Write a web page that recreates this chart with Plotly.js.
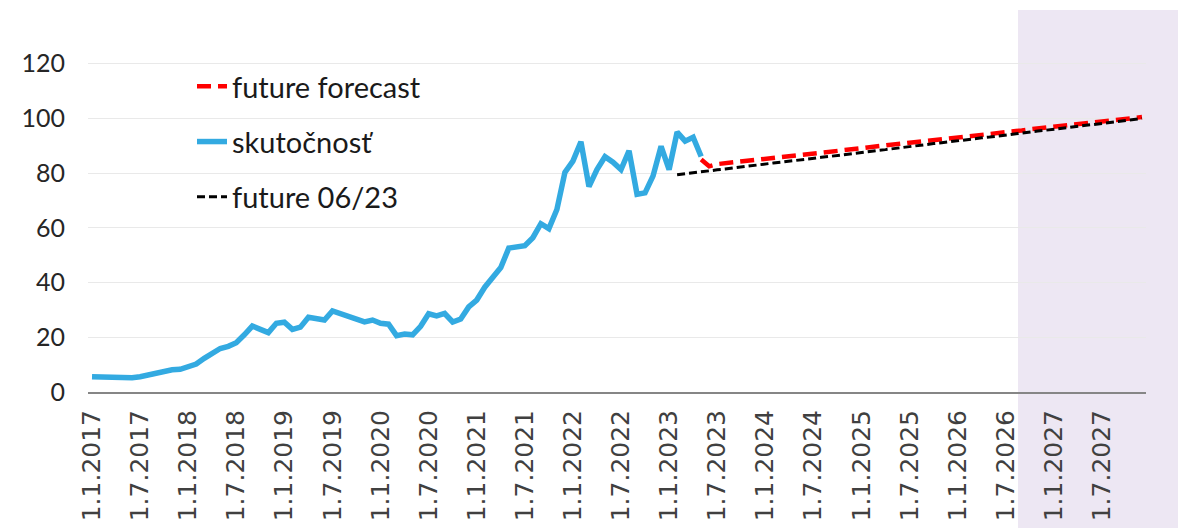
<!DOCTYPE html>
<html>
<head>
<meta charset="utf-8">
<script src="https://cdn.plot.ly/plotly-3.0.1.min.js"></script>
<style>
html,body{margin:0;padding:0;background:#fff;}
#chart{width:1187px;height:528px;}
</style>
</head>
<body>
<div id="chart"></div>
<script>
// monthly categories 1.1.2017 .. 1.12.2027
const startYear = 2017, endYear = 2027;
const months = [];
for (let y = startYear; y <= endYear; y++) {
  for (let m = 1; m <= 12; m++) months.push("1." + m + "." + y);
}
const tickLabels = months.filter(s => s.startsWith("1.1.") || s.startsWith("1.7."));

// skutočnosť: Jan 2017 .. May 2023
const actual = [5.6, 5.5, 5.3, 5.1, 4.9, 5.2, 5.6, 6.2, 7.3, 7.8, 8.1, 8.3,
  9.0, 10.2, 12.3, 14.2, 15.9, 16.7, 18.0, 20.9, 24.1, 22.9, 21.7, 25.1,
  25.5, 22.9, 23.7, 27.3, 27.0, 26.3, 29.6, 28.5, 27.3, 26.2, 25.6, 26.3,
  25.1, 24.8, 20.6, 21.2, 20.9, 24.0, 28.6, 27.8, 28.7, 25.6, 26.7, 31.1,
  33.6, 38.3, 41.8, 45.5, 52.6, 53.3, 53.5, 56.4, 61.5, 59.7, 66.7, 80.3,
  84.4, 91.5, 75.1, 81.3, 86.0, 84.0, 81.3, 88.2, 72.3, 72.8, 79.0, 89.8,
  81.3, 95.0, 91.7, 93.1, 86.1];
const actualStart = 0;

// future forecast: May 2023 .. Dec 2027
const forecast = [85.0, 82.5, 83.3, 83.6, 83.9, 84.3, 84.6, 84.9, 85.2, 85.6,
  85.9, 86.2, 86.5, 86.9, 87.2, 87.5, 87.8, 88.2, 88.5, 88.8,
  89.1, 89.5, 89.8, 90.1, 90.4, 90.8, 91.1, 91.4, 91.7, 92.1,
  92.4, 92.7, 93.0, 93.4, 93.7, 94.0, 94.3, 94.7, 95.0, 95.3,
  95.6, 96.0, 96.3, 96.6, 96.9, 97.3, 97.6, 97.9, 98.2, 98.6,
  98.9, 99.2, 99.5, 99.9, 100.2, 100.5];
const forecastStart = 76;

// future 06/23: Feb 2023 .. Dec 2027
const future0623 = [79.4, 79.8, 80.1, 80.5, 80.8, 81.2, 81.5, 81.9, 82.2, 82.6,
  83.0, 83.3, 83.7, 84.0, 84.4, 84.7, 85.1, 85.4, 85.8, 86.1,
  86.5, 86.9, 87.2, 87.6, 87.9, 88.3, 88.6, 89.0, 89.3, 89.7,
  90.0, 90.4, 90.8, 91.1, 91.5, 91.8, 92.2, 92.5, 92.9, 93.2,
  93.6, 93.9, 94.3, 94.7, 95.0, 95.4, 95.7, 96.1, 96.4, 96.8,
  97.1, 97.5, 97.8, 98.2, 98.6, 98.9, 99.3, 99.6, 100.0];
const futureStart = 73;

const yTicks = [0, 20, 40, 60, 80, 100, 120];

const traces = [
  {
    name: "future forecast", legendgroup: "a",
    x: months.slice(forecastStart, forecastStart + forecast.length), y: forecast,
    type: "scatter", mode: "lines",
    line: {color: "#ff0000", width: 4.5, dash: "14px,7px"}
  },
  {
    name: "skutočnosť", legendgroup: "b",
    x: months.slice(actualStart, actualStart + actual.length), y: actual,
    type: "scatter", mode: "lines",
    line: {color: "#33aae1", width: 5.5}
  },
  {
    name: "future 06/23", legendgroup: "c",
    x: months.slice(futureStart, futureStart + future0623.length), y: future0623,
    type: "scatter", mode: "lines",
    line: {color: "#000000", width: 3, dash: "8px,4px"}
  }
];

const W = 1187, H = 528;
const L = 88, R = 41, T = 9, B = 136;
const pw = W - L - R, ph = H - T - B;

const layout = {
  width: W, height: H,
  margin: {l: L, r: R, t: T, b: B, pad: 0},
  paper_bgcolor: "#ffffff", plot_bgcolor: "rgba(0,0,0,0)",
  showlegend: true,
  legend: {
    x: (192 - L) / pw, xanchor: "left",
    y: 1 - (61 - T) / ph, yanchor: "top",
    bgcolor: "rgba(0,0,0,0)",
    font: {family: "Lato, sans-serif", size: 29, color: "#1a1a1a"},
    tracegroupgap: 14.5,
    traceorder: "grouped"
  },
  xaxis: {
    type: "category",
    categoryorder: "array", categoryarray: months,
    range: [-0.5, months.length - 0.5],
    tickmode: "array", tickvals: tickLabels, ticktext: tickLabels,
    tickangle: -90,
    tickfont: {family: "DejaVu Sans, sans-serif", size: 25, color: "#404040"},
    showgrid: false, zeroline: false,
    showline: true, linecolor: "#868686", linewidth: 2,
    ticks: "", ticklabelstandoff: 6
  },
  yaxis: {
    range: [0, 140],
    tickmode: "array", tickvals: yTicks,
    tickfont: {family: "Lato, sans-serif", size: 25, color: "#262626"},
    showgrid: true, gridcolor: "#e9e9e9", gridwidth: 1,
    zeroline: false, showline: false, ticks: "", ticklabelstandoff: 22
  },
  shapes: [{
    type: "rect", layer: "below",
    xref: "paper", yref: "paper",
    x0: (1018 - L) / pw, x1: (1178 - L) / pw,
    y0: -B / ph, y1: 1 - (10 - T) / ph,
    fillcolor: "#ede7f3", line: {width: 0}
  }]
};

Plotly.newPlot("chart", traces, layout, {displayModeBar: false, staticPlot: true});
</script>
</body>
</html>
